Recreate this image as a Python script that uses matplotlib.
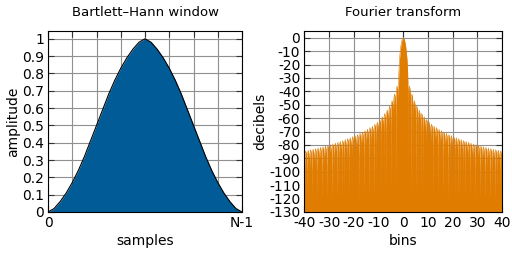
import numpy as np
import matplotlib.pyplot as plt

# window values at n/(N-1) = 0, 1/32, ..., 1
win_pos = np.linspace(0, 1, 33)
win_amp = [0.00, 0.02, 0.06, 0.11, 0.17, 0.24, 0.32, 0.41, 0.50, 0.59, 0.68,
           0.76, 0.83, 0.89, 0.94, 0.98, 1.00, 0.98, 0.94, 0.89, 0.83, 0.76,
           0.68, 0.59, 0.50, 0.41, 0.32, 0.24, 0.17, 0.11, 0.06, 0.02, 0.00]

# main lobe (positive side) in bins / dB
main_bins = [0.0, 0.5, 1.0, 1.5, 1.8, 1.9]
main_db = [0.0, -1.5, -6.5, -15.5, -27.0, -34.0]
# side lobe peak levels for lobes 2..39 (peak half way between nulls)
side_peak_db = [-36, -42, -47, -51, -54, -56.5, -59, -61, -63, -64.5,
                -66, -67, -68.3, -69.3, -70.3, -71.3, -72.2, -73, -73.8, -74.6,
                -75.3, -76, -76.7, -77.3, -78, -78.6, -79.2, -79.8, -80.3, -80.8,
                -81.3, -81.8, -82.2, -82.7, -83.1, -83.5, -83.9, -84.3]
null_db = -122
# shape of one side lobe: offset inside the bin and dB below its peak
lobe_offsets = [0.04, 0.1, 0.25, 0.5, 0.75, 0.9, 0.96]
lobe_drop = [-15, -8, -2.5, 0, -2.5, -8, -15]

blue = '#005b96'
orange = '#e07c00'

xs = list(main_bins)
ys = list(main_db)
for k, peak in enumerate(side_peak_db):
    start = k + 2
    xs.append(start)
    ys.append(null_db)
    for off, d in zip(lobe_offsets, lobe_drop):
        xs.append(start + off)
        ys.append(peak + d)
xs.append(40)
ys.append(null_db)
xs = np.array(xs)
ys = np.array(ys)
fx = np.concatenate([-xs[::-1], xs[1:]])
fy = np.concatenate([ys[::-1], ys[1:]])

fig = plt.figure(figsize=(5.12, 2.56), dpi=100)
ax1 = fig.add_axes([0.0938, 0.1719, 0.3789, 0.707])
ax2 = fig.add_axes([0.5947, 0.1719, 0.3857, 0.707])

for ax in (ax1, ax2):
    ax.grid(True, color='#909090', lw=0.8)
    ax.set_axisbelow(True)
    ax.tick_params(direction='in', length=4, width=0.8, top=True, right=True,
                   labelsize=10, pad=3, color='#333333')
    for s in ax.spines.values():
        s.set_linewidth(0.8)

ax1.fill_between(win_pos, win_amp, 0, color=blue, lw=0, zorder=2)
ax1.plot(win_pos, win_amp, color='black', lw=0.8, zorder=3)
ax1.set_xlim(0, 1)
ax1.set_ylim(0, 1.045)
ax1.set_xticks(np.linspace(0, 1, 9))
ax1.set_xticklabels(['0', '', '', '', '', '', '', '', 'N-1'])
ax1.set_yticks(np.arange(0, 1.01, 0.1))
ax1.set_yticklabels(['0', '0.1', '0.2', '0.3', '0.4', '0.5', '0.6', '0.7',
                     '0.8', '0.9', '1'])
ax1.set_title('Bartlett\u2013Hann window', fontsize=9.5, pad=11)
ax1.set_xlabel('samples', fontsize=10, labelpad=3)
ax1.set_ylabel('amplitude', fontsize=10, labelpad=1)

ax2.fill_between(fx, fy, -130, color=orange, lw=0, zorder=2)
ax2.plot(fx, fy, color=orange, lw=0.4, zorder=2)
ax2.set_xlim(-40, 40)
ax2.set_ylim(-130, 5)
xt = np.arange(-40, 41, 10)
yt = np.arange(-130, 1, 10)
ax2.set_xticks(xt)
ax2.set_xticklabels([str(v) for v in xt])
ax2.set_yticks(yt)
ax2.set_yticklabels([str(v) for v in yt])
ax2.set_title('Fourier transform', fontsize=9.5, pad=11)
ax2.set_xlabel('bins', fontsize=10, labelpad=3)
ax2.set_ylabel('decibels', fontsize=10, labelpad=1)

fig.savefig('out.png', dpi=100)
